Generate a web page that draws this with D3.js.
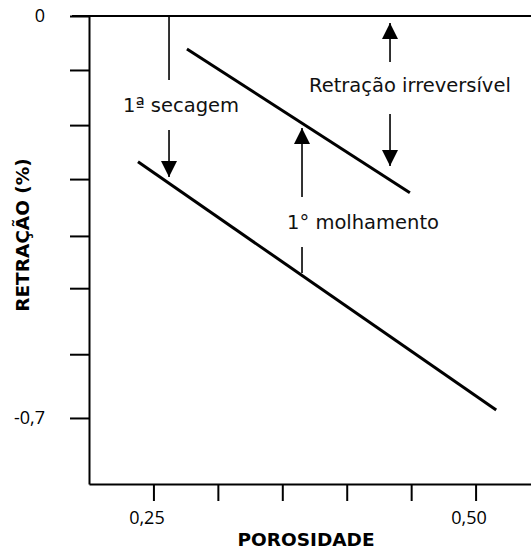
<!DOCTYPE html>
<html>
<head>
<meta charset="utf-8">
<script src="https://cdn.jsdelivr.net/npm/d3@7"></script>
<style>
  body { margin: 0; background: #fff; }
  svg { display: block; }
</style>
</head>
<body>
<script>
// porosity (x) and retraction (y) values
var xTicks = [0.25, 0.30, 0.35, 0.40, 0.45, 0.50];
var xLabels = ["0,25", "", "", "", "", "0,50"];
var yTicks = [0, -0.094, -0.190, -0.284, -0.383, -0.474, -0.589, -0.7];
var yLabels = ["0", "", "", "", "", "", "", "-0,7"];

// the two straight lines
var wettingX = [0.276, 0.449];   // upper line (after 1st wetting)
var wettingY = [-0.0575, -0.308];
var dryingX = [0.238, 0.516];    // lower line (1st drying)
var dryingY = [-0.254, -0.686];

// vertical arrows/markers: x, from, to, has head
var markX = [0.2621, 0.2621, 0.4336, 0.4336, 0.3653, 0.3653];
var markFrom = [0, -0.1985, -0.0801, -0.1707, -0.3152, -0.4023];
var markTo = [-0.1115, -0.2804, -0.0122, -0.2612, -0.1951, -0.4476];
var markHead = [false, true, true, true, true, false];

// annotation texts
var noteText = ["1ª secagem", "Retração irreversível", "1° molhamento"];
var noteX = [0.2264, 0.3707, 0.3537];
var noteY = [-0.1672, -0.1324, -0.3709];

var width = 531, height = 550;
var svg = d3.select("body").append("svg")
    .attr("width", width)
    .attr("height", height);

var x = d3.scaleLinear().domain([0.20, 0.543]).range([89, 531]);
var y = d3.scaleLinear().domain([0, -0.815]).range([16, 484]);

// zero line across the top
svg.append("line")
    .attr("x1", 72).attr("x2", x.range()[1])
    .attr("y1", y(0)).attr("y2", y(0))
    .attr("stroke", "#000").attr("stroke-width", 2);

var yAxis = svg.append("g")
    .attr("transform", "translate(" + x.range()[0] + ",0)")
    .call(d3.axisLeft(y).tickValues(yTicks).tickSize(19).tickSizeOuter(0).tickPadding(25)
        .tickFormat(function(d, i) { return yLabels[i]; }));

var xAxis = svg.append("g")
    .attr("transform", "translate(0," + y.range()[1] + ")")
    .call(d3.axisBottom(x).tickValues(xTicks).tickSize(17).tickSizeOuter(0)
        .tickFormat(function(d, i) { return xLabels[i]; }));

[yAxis, xAxis].forEach(function(a) {
    a.select(".domain").attr("stroke", "#000").attr("stroke-width", 2);
    a.selectAll(".tick line").attr("stroke", "#000").attr("stroke-width", 2);
    a.selectAll("text")
        .attr("fill", "#000")
        .style("font-family", "'Open Sans', sans-serif")
        .style("font-size", "18px");
});
xAxis.selectAll("text").attr("y", 40).attr("dy", 0).attr("dx", -7);

// main lines
var line = d3.line().x(function(d) { return x(d[0]); }).y(function(d) { return y(d[1]); });
[[wettingX, wettingY], [dryingX, dryingY]].forEach(function(s) {
    svg.append("path")
        .attr("d", line(d3.zip(s[0], s[1])))
        .attr("fill", "none")
        .attr("stroke", "#000")
        .attr("stroke-width", 3);
});

// arrows
svg.append("defs").append("marker")
    .attr("id", "head")
    .attr("viewBox", "0 0 16 17")
    .attr("refX", 16).attr("refY", 8)
    .attr("markerWidth", 16).attr("markerHeight", 17)
    .attr("markerUnits", "userSpaceOnUse")
    .attr("orient", "auto")
    .append("path")
    .attr("d", "M0,0L16,8L0,16Z")
    .attr("fill", "#000");

markX.forEach(function(mx, i) {
    svg.append("line")
        .attr("x1", x(mx)).attr("x2", x(mx))
        .attr("y1", y(markFrom[i])).attr("y2", y(markTo[i]))
        .attr("stroke", "#000")
        .attr("stroke-width", 1.6)
        .attr("marker-end", markHead[i] ? "url(#head)" : null);
});

noteText.forEach(function(t, i) {
    svg.append("text")
        .attr("x", x(noteX[i]))
        .attr("y", y(noteY[i]))
        .style("font-family", "'DejaVu Sans', sans-serif")
        .style("font-size", "19.5px")
        .attr("fill", "#111")
        .text(t);
});

// axis titles
svg.append("text")
    .attr("x", 306).attr("y", 546)
    .attr("text-anchor", "middle")
    .style("font-family", "'DejaVu Sans', sans-serif")
    .style("font-size", "18.5px")
    .style("font-weight", "bold")
    .text("POROSIDADE");

svg.append("text")
    .attr("transform", "translate(29,235) rotate(-90)")
    .attr("text-anchor", "middle")
    .style("font-family", "'DejaVu Sans', sans-serif")
    .style("font-size", "18.5px")
    .style("font-weight", "bold")
    .text("RETRAÇÃO (%)");
</script>
</body>
</html>
